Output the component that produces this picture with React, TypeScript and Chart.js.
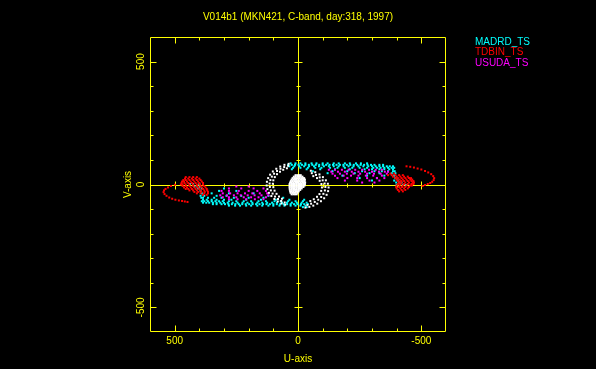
import React, { useEffect, useRef } from "react";
import { Chart, registerables } from "chart.js";

Chart.register(...registerables);

const TITLE = "V014b1 (MKN421, C-band, day:318, 1997)";
const X_LABEL = "U-axis";
const Y_LABEL = "V-axis";
const AXIS_MIN = -600;
const AXIS_MAX = 600;
const TICK_VALUES = [-500, -400, -300, -200, -100, 0, 100, 200, 300, 400, 500];
const LABELED_TICKS = [-500, 0, 500];

const YELLOW = "#ffff00";
const CYAN = "#00ffff";
const RED = "#ff0000";
const MAGENTA = "#ff00ff";
const WHITE = "#ffffff";

const LEGEND = [
  { label: "MADRD_TS", color: CYAN },
  { label: "TDBIN_TS", color: RED },
  { label: "USUDA_TS", color: MAGENTA },
];

// Rows: [v, u1, u2, ...]
const MADRD_ROWS: number[][] = [
  [86, 30, 10, -10, -30, -55, -75, -100, -120, -145, -165, -190, -210, -235, -255, -280],
  [80, 40, 25, 12, -2, -16, -30, -44, -58, -72, -86, -100, -114, -128, -142, -156, -170, -184, -198, -212, -226, -240, -254, -268, -282, -296, -310, -330, -345],
  [74, 35, 15, -5, -25, -45, -65, -85, -105, -125, -145, -165, -185, -205, -225, -245, -265, -285, -300, -315, -330, -345, -360, -372, -385],
  [68, 20, -10, -40, -70, -95, -130, -160, -190, -220, -250, -280, -305, -320, -335, -350, -365, -380, -390],
  [62, 25, -35, -90, -150, -210, -270, -300, -330, -350, -370, -385],
  [54, -60, -140, -200, -260, -310, -340, -365, -385, -392],
  [46, -120, -230, -290, -330, -380, -395],
  [36, -180, -280, -350, -390],
  [26, -250, -320, -395],
  [16, -300, -390, -405],
  [8, -398, -410, -420],
  [-2, -400, -425, -438],
  [2, 400, 425, 438],
  [-8, 398, 410, 420],
  [-16, 300, 390, 405],
  [-26, 250, 320, 395],
  [-36, 180, 280, 350, 390],
  [-46, 120, 230, 290, 330, 380, 395],
  [-54, 60, 140, 200, 260, 310, 340, 365, 385, 392],
  [-62, -25, 35, 90, 150, 210, 270, 300, 330, 350, 370, 385],
  [-68, -20, 10, 40, 70, 95, 130, 160, 190, 220, 250, 280, 305, 320, 335, 350, 365, 380, 390],
  [-74, -35, -15, 5, 25, 45, 65, 85, 105, 125, 145, 165, 185, 205, 225, 245, 265, 285, 300, 315, 330, 345, 360, 372, 385],
  [-80, -40, -25, -12, 2, 16, 30, 44, 58, 72, 86, 100, 114, 128, 142, 156, 170, 184, 198, 212, 226, 240, 254, 268, 282, 296, 310, 330, 345],
  [-86, -30, -10, 10, 30, 55, 75, 100, 120, 145, 165, 190, 210, 235, 255, 280],
  [-92, -20, -35],
];

const TDBIN_ROWS: number[][] = [
  [44, -375, -390],
  [38, -365, -380, -395, -410, -425],
  [32, -385, -400, -415, -430, -445],
  [26, -395, -405, -420, -435, -450, -458],
  [20, -400, -412, -425, -440, -455, -463],
  [14, -405, -418, -430, -445, -460, -468],
  [8, -410, -420, -435, -450, -465, -470],
  [2, -405, -415, -430, -445, -460, -468],
  [-4, -400, -412, -425, -440, -455, -462],
  [-10, -398, -410, -422, -435, -450],
  [-16, -400, -415, -430, -445],
  [-22, -405, -420, -435],
  [-28, -410, -425],
  [30, 410, 425, 440, 455],
  [24, 400, 415, 430, 445, 458],
  [18, 395, 410, 425, 440, 455, 465],
  [12, 390, 405, 420, 435, 450, 462, 470],
  [6, 385, 400, 415, 430, 445, 460, 472],
  [0, 385, 398, 410, 425, 440, 455, 468, 475],
  [-6, 380, 395, 410, 425, 440, 455, 468],
  [-12, 375, 390, 405, 420, 435, 450, 462],
  [-18, 370, 385, 400, 415, 430, 445, 455],
  [-24, 368, 380, 395, 410, 425, 440],
  [-30, 365, 378, 392, 405, 420],
  [-36, 365, 380, 395, 410],
  [-42, 370, 385],
];

const TDBIN_ARCS: [number, number][] = [
  [-440, 74], [-455, 72], [-470, 69], [-485, 65], [-500, 61], [-515, 55], [-528, 49], [-540, 42], [-548, 34],
  [-552, 26], [-550, 18], [-544, 11], [-536, 6], [-526, 2], [-515, -2], [-505, -6],
  [499, -1], [515, -6], [527, -12], [537, -18], [543, -24], [545, -31], [541, -39], [533, -46], [522, -53],
  [510, -58], [497, -62], [483, -65], [470, -67], [459, -69], [448, -71],
];

const USUDA_ROWS: number[][] = [
  [60, -125, -150, -178, -205, -232, -260, -288, -315, -340],
  [52, -135, -162, -190, -218, -245, -272, -300, -328, -352, -365],
  [44, -140, -170, -198, -225, -252, -280, -308, -335, -360],
  [36, -150, -185, -215, -245, -275, -305, -340],
  [26, -160, -200, -240, -280, -320, -350],
  [16, -190, -240, -290, -330],
  [8, -260, -310],
  [-8, 200, 250],
  [-16, 140, 180, 230, 280],
  [-26, 130, 165, 200, 240, 280, 310],
  [-36, 125, 155, 185, 215, 245, 275, 305],
  [-44, 120, 148, 176, 204, 232, 260, 288, 315],
  [-52, 130, 160, 190, 220, 250, 280, 305],
  [-60, 140, 175, 210, 245, 280],
];

const OTHER_ARCS: [number, number][] = [
  [38, 84], [55, 80], [72, 73], [88, 64], [102, 53], [113, 40], [121, 26], [126, 11], [127, -4], [124, -19],
  [118, -34], [108, -47], [96, -59], [82, -69], [67, -77], [52, -82],
  [40, 76], [56, 71], [71, 64], [85, 55], [97, 44], [106, 32], [112, 18], [115, 4], [114, -10], [110, -24],
  [103, -37], [93, -49], [81, -59], [68, -67], [54, -73],
  [45, 66], [60, 60], [73, 52], [85, 42], [94, 30], [100, 17], [102, 3], [100, -11], [95, -25], [87, -38],
  [77, -49], [65, -58],
  [-52, 56], [-70, 50], [-87, 41], [-101, 30], [-113, 17], [-121, 3], [-124, -12], [-122, -27], [-116, -42],
  [-106, -56], [-93, -68], [-78, -78], [-62, -86], [-46, -91], [-30, -94],
  [-56, 46], [-73, 39], [-88, 29], [-100, 17], [-108, 4], [-111, -10], [-109, -24], [-103, -38], [-94, -51],
  [-82, -62], [-68, -71], [-53, -78], [-38, -83],
  [-62, 34], [-77, 26], [-88, 15], [-95, 2], [-97, -12], [-94, -26], [-87, -39], [-77, -50], [-64, -60], [-50, -67],
];

const OTHER_ROWS: number[][] = [
  [38, 10, 3, -4, -11],
  [32, 17, 10, 3, -4, -11, -18],
  [26, 22, 15, 8, 1, -6, -13, -20, -25],
  [20, 26, 19, 12, 5, -2, -9, -16, -23, -28],
  [14, 29, 22, 15, 8, 1, -6, -13, -20, -27],
  [8, 32, 25, 18, 11, 4, -3, -10, -17, -24, -29],
  [2, 34, 27, 20, 13, 6, -1, -8, -15, -22, -28],
  [-4, 34, 27, 20, 13, 6, -1, -8, -15, -22, -27],
  [-10, 34, 27, 20, 13, 6, -1, -8, -15, -22],
  [-16, 34, 27, 20, 13, 6, -1, -8, -15],
  [-22, 33, 26, 19, 12, 5, -2, -9],
  [-28, 32, 25, 18, 11, 4, -3],
  [-34, 30, 23, 16, 9, 2],
  [-40, 26, 19, 12, 5],
];

const FONT = '10px "Liberation Sans", "DejaVu Sans", sans-serif';

const uvPlugin = {
  id: "uvFrame",
  beforeDatasetsDraw(chart: any) {
    const { ctx, chartArea: a, scales } = chart;
    const xs = scales.x;
    const ys = scales.y;
    ctx.save();
    ctx.strokeStyle = YELLOW;
    ctx.lineWidth = 1;
    const L = a.left + 0.5;
    const R = a.right - 0.5;
    const T = a.top + 0.5;
    const B = a.bottom - 0.5;
    ctx.beginPath();
    ctx.rect(L, T, R - L, B - T);
    const x0 = Math.round(xs.getPixelForValue(0)) + 0.5;
    const y0 = Math.round(ys.getPixelForValue(0)) + 0.5;
    ctx.moveTo(L, y0);
    ctx.lineTo(R, y0);
    ctx.moveTo(x0, T);
    ctx.lineTo(x0, B);
    for (const t of TICK_VALUES) {
      const major = LABELED_TICKS.includes(t);
      const len = major ? 6 : 3;
      const half = major ? 4 : 2;
      const px = Math.round(xs.getPixelForValue(t)) + 0.5;
      const py = Math.round(ys.getPixelForValue(t)) + 0.5;
      ctx.moveTo(px, B);
      ctx.lineTo(px, B - len);
      ctx.moveTo(px, T);
      ctx.lineTo(px, T + len);
      ctx.moveTo(L, py);
      ctx.lineTo(L + len, py);
      ctx.moveTo(R, py);
      ctx.lineTo(R - len, py);
      if (t !== 0) {
        ctx.moveTo(px, y0 - half);
        ctx.lineTo(px, y0 + half);
        ctx.moveTo(x0 - half, py);
        ctx.lineTo(x0 + half, py);
      }
    }
    ctx.stroke();

    ctx.fillStyle = YELLOW;
    ctx.font = FONT;
    ctx.textAlign = "center";
    ctx.textBaseline = "middle";
    for (const t of LABELED_TICKS) {
      const px = xs.getPixelForValue(t);
      ctx.fillText(String(t), px, a.bottom + 9);
      const py = ys.getPixelForValue(t);
      ctx.save();
      ctx.translate(a.left - 8.5, py);
      ctx.rotate(-Math.PI / 2);
      ctx.fillText(String(t), 0, 0);
      ctx.restore();
    }
    ctx.fillText(X_LABEL, (a.left + a.right) / 2, a.bottom + 27);
    ctx.save();
    ctx.translate(a.left - 22, (a.top + a.bottom) / 2);
    ctx.rotate(-Math.PI / 2);
    ctx.fillText(Y_LABEL, 0, 0);
    ctx.restore();
    ctx.fillText(TITLE, (a.left + a.right) / 2, 17);

    ctx.textAlign = "left";
    LEGEND.forEach((item, i) => {
      ctx.fillStyle = item.color;
      ctx.fillText(item.label, 475, 42 + i * 10.5);
    });
    ctx.restore();
  },
};

const fromPairs = (arr: [number, number][]) => arr.map(([x, y]) => ({ x, y }));
const fromRows = (rows: number[][]) =>
  rows.flatMap(([v, ...us]) => us.map((u) => ({ x: u, y: v })));

export default function App() {
  const canvasRef = useRef<HTMLCanvasElement | null>(null);

  useEffect(() => {
    const canvas = canvasRef.current;
    if (!canvas) return;
    const mk = (label: string, data: { x: number; y: number }[], color: string) => ({
      label,
      data,
      backgroundColor: color,
      borderColor: color,
      borderWidth: 0,
      pointStyle: "rect" as const,
      pointRadius: Math.SQRT2,
      showLine: false,
    });
    const chart = new Chart(canvas, {
      type: "scatter",
      data: {
        datasets: [
          mk("", [...fromPairs(OTHER_ARCS), ...fromRows(OTHER_ROWS)], WHITE),
          mk(LEGEND[1].label, [...fromRows(TDBIN_ROWS), ...fromPairs(TDBIN_ARCS)], RED),
          mk(LEGEND[2].label, fromRows(USUDA_ROWS), MAGENTA),
          mk(LEGEND[0].label, fromRows(MADRD_ROWS), CYAN),
        ],
      },
      options: {
        animation: false,
        responsive: false,
        maintainAspectRatio: false,
        devicePixelRatio: 1,
        events: [],
        layout: { padding: { left: 150, right: 150, top: 37, bottom: 37 } },
        plugins: { legend: { display: false }, tooltip: { enabled: false }, title: { display: false } },
        scales: {
          x: { type: "linear", min: AXIS_MIN, max: AXIS_MAX, reverse: true, display: false },
          y: { type: "linear", min: AXIS_MIN, max: AXIS_MAX, display: false },
        },
      },
      plugins: [uvPlugin],
    });
    return () => chart.destroy();
  }, []);

  return (
    <div style={{ position: "fixed", left: 0, top: 0, width: 596, height: 369, background: "#000" }}>
      <canvas ref={canvasRef} width={596} height={369} style={{ display: "block" }} />
    </div>
  );
}
